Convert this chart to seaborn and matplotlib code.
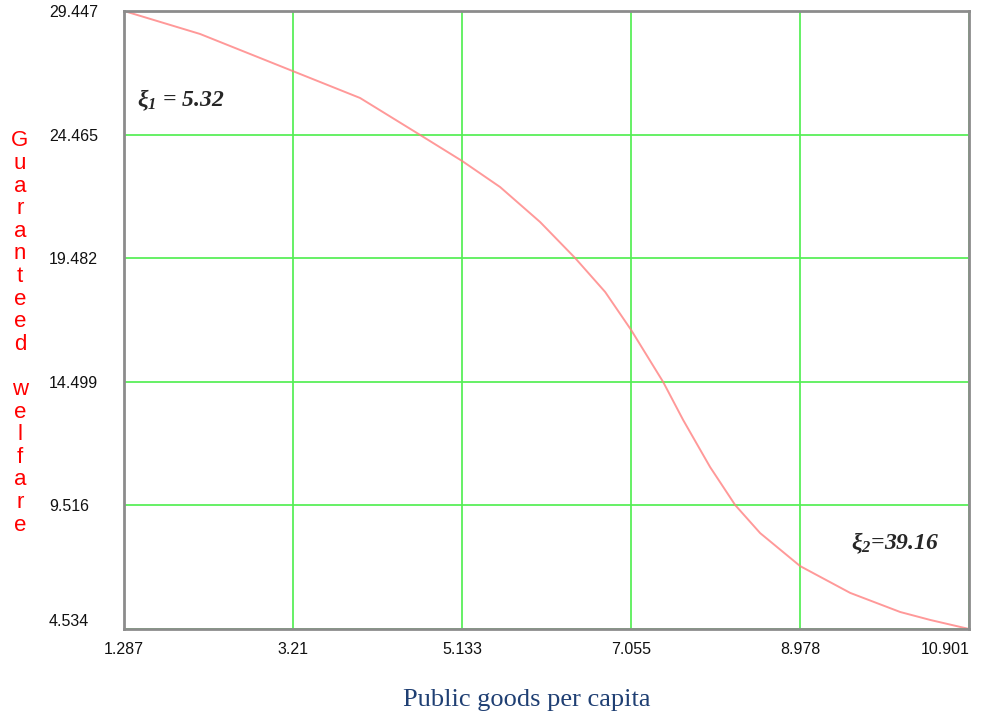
import matplotlib
matplotlib.use('Agg')
import pandas as pd
import seaborn as sns
import matplotlib.pyplot as plt

# dados
goods = [1.287, 2.152, 3.21, 3.972, 4.655, 5.133, 5.565, 6.020, 6.418, 6.760, 7.055,
         7.420, 7.647, 7.954, 8.239, 8.523, 8.978, 9.547, 10.116, 10.457, 10.901]
welfare = [29.447, 28.52, 27.02, 25.94, 24.45, 23.40, 22.35, 20.94, 19.49, 18.12, 16.59,
           14.49, 12.96, 11.06, 9.53, 8.40, 7.07, 5.99, 5.22, 4.90, 4.534]
xticks = [1.287, 3.21, 5.133, 7.055, 8.978, 10.901]
yticks = [4.534, 9.516, 14.499, 19.482, 24.465, 29.447]

df = pd.DataFrame({'goods': goods, 'welfare': welfare})

sns.set_style('white')
plt.rcParams['font.family'] = ['Liberation Sans', 'DejaVu Sans']
plt.rcParams['mathtext.fontset'] = 'custom'
plt.rcParams['mathtext.rm'] = 'Liberation Serif:bold:italic'
plt.rcParams['mathtext.it'] = 'Liberation Serif:bold:italic'

fig = plt.figure(figsize=(9.84, 7.17), dpi=100)
ax = fig.add_axes([0.126, 0.1227, 0.859, 0.862])

sns.lineplot(data=df, x='goods', y='welfare', ax=ax, color='#ff8080', alpha=0.8, linewidth=1.4)

ax.set_xlim(xticks[0], xticks[-1])
ax.set_ylim(yticks[0], yticks[-1])
ax.set_xticks(xticks)
ax.set_xticklabels([str(t) for t in xticks])
ax.set_yticks(yticks)
ax.set_yticklabels([str(t) for t in yticks])
ax.grid(True, color='#55ee55', linewidth=1.4, alpha=0.9)
ax.set_axisbelow(True)
ax.tick_params(axis='both', length=0, labelsize=11.5, colors='#111111')
ax.tick_params(axis='y', pad=54)
ax.tick_params(axis='x', pad=9)
for lab in ax.get_yticklabels():
    lab.set_horizontalalignment('left')
ax.get_yticklabels()[0].set_verticalalignment('bottom')
ax.get_xticklabels()[-1].set_horizontalalignment('right')
for s in ax.spines.values():
    s.set_color('#8c8c8c')
    s.set_linewidth(2)

ax.set_xlabel('')
ax.set_ylabel('')

ax.text(0.015, 0.856, r'ξ$_1$ = 5.32', transform=ax.transAxes, fontsize=17,
        family='Liberation Serif', weight='bold', style='italic', va='center')
ax.text(0.860, 0.139, r'ξ$_2$=39.16', transform=ax.transAxes, fontsize=17,
        family='Liberation Serif', weight='bold', style='italic', va='center')

fig.text(527 / 984, 1 - 700 / 717, 'Public goods per capita', ha='center', va='center',
         fontsize=19, family='Liberation Serif', color='#1f3f73')
fig.text(20 / 984, 1 - 333 / 717, '\n'.join(list('Guaranteed welfare')), ha='center',
         va='center', fontsize=16, color='red', linespacing=1.1)

fig.savefig('out.png', dpi=100)
